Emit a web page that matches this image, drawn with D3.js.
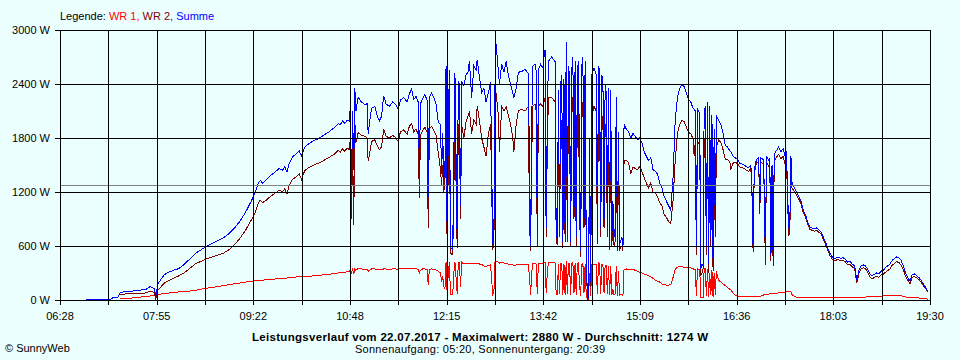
<!DOCTYPE html>
<html><head><meta charset="utf-8">
<script src="https://cdn.jsdelivr.net/npm/d3@7"></script>
<style>
html,body{margin:0;padding:0;background:#ecffff;}
svg{display:block;font-family:"Liberation Sans",Arial,sans-serif;}
</style></head><body>
<svg id="c" width="960" height="360"></svg>
<script>
// time in minutes since midnight
const minutes = [
411,420,430,434,436,440,442,445,450,455,
460,465,469,471,473,474,476,478,481,484,
490,495,500,505,510,515,520,525,530,535,
540,545,550,555,560,563,566,568,570,573,
576,580,585,588,590,592,594,597,600,603,
605,608,612,616,620,625,630,635,638,640,
642,644,646,648,649,650,651,652,653,654,
656,659,662,664,665,666,668,671,673,675,
677,679,681,684,687,690,692,694,697,700,
702,704,706,708,710,711,712,714,716,718,
719,720,722,724,726,728,730,731,732,733,
734,735,736,737,738,739,741,742,743,745,
746,747,748,749,751,753,755,756,758,760,
762,763,765,767,769,771,773,775,777,778,
779,780,782,783,785,787,789,791,793,795,
796,798,800,803,806,809,810,811,812,813,
815,816,817,818,820,822,823,824,825,826,
827,830,833,834,835,836,837,838,839,840,
841,842,843,844,845,846,847,848,849,850,
851,852,853,854,855,856,857,858,859,860,
861,862,863,864,865,866,868,870,871,872,
873,874,875,876,877,878,879,880,881,882,
883,884,885,886,887,888,889,890,891,892,
893,894,895,897,899,901,903,905,907,909,
911,913,915,917,919,921,923,925,927,929,
931,933,935,937,939,941,943,945,947,949,
951,953,955,957,958,959,960,961,962,963,
964,965,966,967,968,969,970,971,972,973,
974,975,976,977,978,980,982,984,986,988,
990,991,993,995,997,999,1001,1003,1005,1007,
1009,1010,1011,1012,1014,1016,1017,1018,1020,1021,
1022,1023,1025,1026,1027,1028,1029,1030,1032,1034,
1036,1038,1040,1041,1042,1043,1044,1045,1046,1048,
1050,1052,1054,1056,1058,1060,1062,1064,1066,1068,
1070,1072,1074,1076,1078,1080,1082,1084,1086,1088,
1090,1092,1094,1096,1098,1100,1102,1103,1104,1105,
1106,1108,1110,1112,1114,1116,1118,1120,1122,1124,
1126,1128,1130,1132,1134,1136,1138,1140,1142,1144,
1146,1148,1150,1152,1154,1156,1158,1160,1162,1164,
1166,1168];

const summe = [
8,8,8,10,30,30,80,90,90,105,
110,115,150,140,120,30,180,215,270,300,
330,350,400,460,520,560,600,630,660,690,
740,800,880,980,1100,1180,1290,1330,1300,1330,
1370,1410,1460,1440,1480,1420,1520,1590,1620,1660,
1600,1700,1740,1770,1790,1830,1870,1920,1960,1950,
1990,1960,2000,1990,2150,1280,2100,1450,2350,2100,
2250,2200,2170,2180,1850,1950,2130,2150,2050,1990,
2040,2270,2180,2150,2200,2170,2120,2220,2250,2200,
2290,2340,2230,2260,2200,1460,2180,2240,2280,2220,
1150,2250,2300,2250,2180,1980,1950,1400,1850,1350,
1450,2600,600,1900,2550,580,560,1600,2520,650,
2430,2400,1050,2430,2380,2500,2540,2660,2250,2600,
2550,2670,2480,2300,2350,2200,2300,2420,620,700,
2400,2840,2550,2400,2620,2530,2650,2500,2400,2300,
2250,2350,2530,2540,2560,2520,1500,600,2000,2600,
2620,2550,700,2560,2620,2580,2700,2780,800,2000,
2650,2700,2650,700,700,2330,800,2400,2500,650,
2450,750,2870,800,2600,2500,650,2550,2700,1000,
2650,700,2550,2650,1500,550,2600,2700,900,2650,
600,20,30,1800,200,2500,2580,2500,700,2600,
2550,800,2500,2450,900,2400,2300,800,2350,650,
2330,700,1100,700,800,2250,600,1870,620,650,
700,600,1950,1900,1870,1800,1850,1820,1780,1800,
1750,1650,1600,1550,1580,1450,1430,1400,1300,1250,
1150,1100,1050,1000,1350,2000,2250,2350,2400,2370,
2300,2230,2200,2130,2120,2100,600,2120,2100,2080,
350,400,380,2100,2150,600,2200,400,2150,700,
2050,400,1900,800,2050,2000,1950,1850,1720,1700,
1660,1650,1600,1580,1560,1520,1510,1500,1480,1470,
1500,1200,570,1450,1560,1580,1000,1580,1560,1300,
450,1600,1550,1580,500,1500,450,1620,1660,1700,
1650,1680,1580,1650,1200,800,850,1600,1300,1250,
1200,1150,1100,1000,950,870,810,800,790,800,
780,760,700,650,580,520,480,460,470,470,
465,470,450,420,430,400,380,330,220,250,
330,380,390,380,340,290,270,285,300,290,
320,330,360,380,400,440,460,480,470,440,
380,300,250,210,280,290,270,250,220,180,
140,100];

const wr2 = [
null,null,null,null,null,null,55,65,70,72,
75,78,100,95,80,5,110,135,180,205,
240,270,305,355,405,430,460,480,500,520,
560,615,690,780,890,960,1070,1110,1080,1105,
1140,1175,1220,1200,1238,1180,1275,1340,1365,1400,
1340,1438,1475,1500,1518,1550,1585,1625,1660,1645,
1682,1650,1688,1672,1800,900,1700,830,1980,1750,
1860,1830,1820,1800,1540,1600,1760,1780,1720,1670,
1700,1900,1820,1800,1830,1800,1760,1870,1890,1840,
1930,1960,1870,1900,1840,1130,1830,1880,1920,1860,
800,1900,1930,1880,1830,1640,1450,1280,1500,1200,
1300,2050,530,1500,2020,520,500,1200,2000,580,
1950,1900,900,1950,1800,1980,2050,2100,1850,2000,
1950,2150,2000,1800,1700,1600,1850,1950,560,620,
1960,2300,2050,1650,2150,2100,2150,2050,1950,1800,
1650,1950,2100,2120,2100,2150,850,550,1600,2150,
2180,2100,600,2150,2180,2150,2200,2250,700,1700,
2250,2250,2200,640,620,1900,700,1900,2000,580,
2050,650,2350,650,2200,2000,600,2100,2250,900,
2150,600,2100,2200,1000,480,2150,2200,800,2200,
500,10,20,1450,150,2050,2150,2100,620,2150,
2100,700,2050,2000,800,1950,1900,700,1900,560,
1900,600,900,600,650,1800,550,1500,560,580,
600,550,1550,1550,1530,1400,1480,1460,1450,1480,
1430,1360,1300,1250,1300,1200,1200,1150,1080,1050,
950,920,870,850,1100,1550,1850,1950,2000,1980,
1920,1860,1850,1790,1600,1750,500,1750,1750,1720,
280,300,350,1750,1800,500,1850,300,1800,600,
1700,320,1500,700,1700,1780,1750,1670,1560,1560,
1540,1450,1520,1530,1515,1480,1470,1460,1440,1430,
1460,1160,530,1410,1520,1540,960,1535,1515,1235,
385,1535,1485,1512,432,1432,380,1550,1585,1620,
1570,1595,1490,1560,1110,710,760,1510,1240,1210,
1170,1122,1075,975,925,845,785,775,765,775,
755,735,675,625,555,495,455,435,445,445,
440,442,422,390,400,370,350,300,190,220,
300,348,358,348,305,255,235,250,265,252,
280,285,310,325,345,385,405,425,418,390,
340,265,220,182,252,262,245,228,200,162,
126,90];

const wr1 = [
null,null,null,null,null,null,15,15,18,25,
32,38,45,50,55,60,62,65,70,75,
82,90,95,100,108,120,132,140,150,160,
172,180,190,200,208,212,215,218,220,224,
228,232,238,240,242,244,246,250,255,258,
260,262,265,268,272,280,285,295,300,305,
308,310,312,318,330,300,340,290,345,330,
350,345,340,345,320,330,345,345,340,335,
340,345,345,340,345,345,340,350,345,350,
350,350,345,350,340,300,330,345,345,340,
170,340,345,340,335,320,300,200,260,150,
120,420,60,300,420,60,60,300,420,70,
420,420,150,420,400,410,400,410,400,410,
400,405,400,395,380,370,385,390,60,80,
420,430,420,410,420,410,410,400,400,390,
385,390,395,400,395,390,250,60,300,410,
410,400,70,410,410,400,420,420,80,300,
420,420,410,60,60,400,70,400,410,60,
400,60,430,70,410,410,60,410,420,80,
410,60,400,410,150,50,400,410,80,400,
60,10,10,300,40,400,400,400,70,410,
400,70,400,400,80,390,380,70,380,60,
380,60,120,60,70,380,50,320,50,60,
60,50,340,345,340,340,340,330,320,310,
300,290,280,270,260,240,220,210,200,180,
170,165,165,170,250,340,365,370,370,365,
360,360,355,350,340,340,50,350,340,340,
30,30,30,340,350,50,340,30,300,60,
330,30,300,60,320,220,200,180,160,140,
120,110,80,50,42,40,40,40,40,40,
40,40,38,38,40,42,42,45,45,65,
65,65,65,68,68,68,70,70,75,78,
80,85,88,90,90,90,90,90,60,40,
30,28,25,25,25,25,25,25,25,25,
25,25,25,25,25,25,25,25,25,25,
25,28,28,30,30,30,30,30,30,30,
30,32,32,32,35,35,35,35,35,38,
40,45,50,55,55,55,55,55,52,50,
40,35,30,28,28,28,25,22,20,18,
14,10];

const yTickValues = [0, 600, 1200, 1800, 2400, 3000];
const xTickLabels = ["06:28","07:55","09:22","10:48","12:15","13:42","15:09","16:36","18:03","19:30"];
const seriesNames = ["WR 1", "WR 2", "Summe"];
const averageW = 1274;
const timeStart = 388, timeEnd = 1170;
const titleText = "Leistungsverlauf vom 22.07.2017 - Maximalwert: 2880 W - Durchschnitt: 1274 W";
const subtitleText = "Sonnenaufgang: 05:20, Sonnenuntergang: 20:39";

const svg = d3.select("#c");
const L = 60, R = 930, T = 30, B = 300;
const x = d3.scaleLinear().domain([timeStart, timeEnd]).range([L, R]);
const y = d3.scaleLinear().domain([0, 3000]).range([B, T]);

svg.append("rect").attr("width",960).attr("height",360).attr("fill","#ecffff");

const colors = ["#ff0000", "#800000", "#0000ff"];
const seriesData = [wr1, wr2, summe];

// legend
const leg = svg.append("text").attr("x", 60).attr("y", 20).attr("font-size", 11);
leg.append("tspan").attr("fill","#000").text("Legende: ");
seriesNames.forEach((n,i)=>{
  leg.append("tspan").attr("fill", colors[i]).text(n + (i < seriesNames.length-1 ? ", " : ""));
});

// series
const line = d3.line().defined(d => d[1] != null).x(d => x(d[0])).y(d => y(d[1]));
seriesData.forEach((arr, i) => {
  svg.append("path")
    .datum(minutes.map((m, k) => [m, arr[k]]))
    .attr("d", line)
    .attr("fill", "none")
    .attr("stroke", colors[i])
    .attr("stroke-width", 1)
    .attr("shape-rendering", "crispEdges");
});

// average line
svg.append("line").attr("x1", L).attr("x2", R)
  .attr("y1", Math.round(y(averageW)) + 0.5).attr("y2", Math.round(y(averageW)) + 0.5)
  .attr("stroke", "#808080").attr("stroke-width", 1).attr("shape-rendering","crispEdges");

// grid
const g = svg.append("g").attr("stroke","#000").attr("stroke-width",1).attr("shape-rendering","crispEdges");
yTickValues.forEach(v => {
  const yy = Math.round(y(v)) + 0.5;
  g.append("line").attr("x1", L - 5).attr("x2", R + 0.5).attr("y1", yy).attr("y2", yy);
});
const nGrid = (xTickLabels.length - 1) * 2;
for (let i = 0; i <= nGrid; i++) {
  const xx = Math.round(x(timeStart + i * (timeEnd - timeStart) / nGrid)) + 0.5;
  g.append("line").attr("x1", xx).attr("x2", xx).attr("y1", T + 0.5).attr("y2", B + 5);
}

// y labels
yTickValues.forEach(v => {
  svg.append("text").attr("x", 50).attr("y", y(v) + 4)
    .attr("text-anchor","end").attr("font-size", 11).attr("fill","#000")
    .text(v + " W");
});
// x labels
xTickLabels.forEach((lab, i) => {
  svg.append("text").attr("x", x(timeStart + i * (timeEnd - timeStart) / (xTickLabels.length - 1)))
    .attr("y", 320).attr("text-anchor","middle").attr("font-size", 11).attr("fill","#000")
    .text(lab);
});

svg.append("text").attr("x", 480).attr("y", 341).attr("text-anchor","middle")
  .attr("font-size", 11.5).attr("font-weight","bold").attr("fill","#000")
  .attr("textLength", 456).attr("lengthAdjust", "spacing").text(titleText);
svg.append("text").attr("x", 480).attr("y", 353).attr("text-anchor","middle")
  .attr("font-size", 11).attr("fill","#000")
  .attr("textLength", 250).attr("lengthAdjust", "spacing").text(subtitleText);
svg.append("text").attr("x", 5).attr("y", 352)
  .attr("font-size", 11).attr("fill","#000").text("\u00A9 SunnyWeb");
</script>
</body></html>
